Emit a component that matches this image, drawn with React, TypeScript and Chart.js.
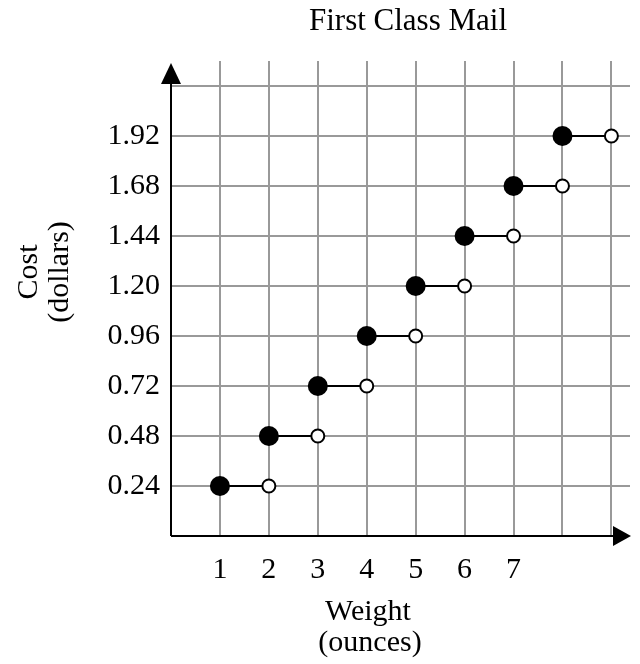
import React, { useEffect, useRef } from "react";
import { Chart, registerables } from "chart.js";

Chart.register(...registerables);

// Data
const weights = [1, 2, 3, 4, 5, 6, 7, 8];
const nextWeights = [2, 3, 4, 5, 6, 7, 8, 9];
const costs = [0.24, 0.48, 0.72, 0.96, 1.2, 1.44, 1.68, 1.92];

const xGridValues = [1, 2, 3, 4, 5, 6, 7, 8, 9];
const xTickLabels = ["1", "2", "3", "4", "5", "6", "7"];
const yGridValues = [0.24, 0.48, 0.72, 0.96, 1.2, 1.44, 1.68, 1.92, 2.16];
const yTickLabels = ["0.24", "0.48", "0.72", "0.96", "1.20", "1.44", "1.68", "1.92"];

const titleText = "First Class Mail";
const xTitle = ["Weight", "(ounces)"];
const yTitle = ["Cost", "(dollars)"];

const FONT = "'Liberation Serif', 'Times New Roman', serif";

const decorPlugin = {
  id: "decor",
  afterDraw(chart: any) {
    const ctx = chart.ctx;
    const xs = chart.scales.x;
    const ys = chart.scales.y;
    const x0 = xs.getPixelForValue(0);
    const y0 = ys.getPixelForValue(0);
    const area = chart.chartArea;
    ctx.save();
    // axes
    ctx.strokeStyle = "#000";
    ctx.lineWidth = 2;
    ctx.beginPath();
    ctx.moveTo(x0, y0);
    ctx.lineTo(x0, area.top + 22);
    ctx.moveTo(x0, y0);
    ctx.lineTo(area.right - 16, y0);
    ctx.stroke();
    // arrows
    ctx.fillStyle = "#000";
    ctx.beginPath();
    ctx.moveTo(x0, area.top + 2);
    ctx.lineTo(x0 - 10, area.top + 23);
    ctx.lineTo(x0 + 10, area.top + 23);
    ctx.closePath();
    ctx.fill();
    ctx.beginPath();
    ctx.moveTo(area.right + 1, y0);
    ctx.lineTo(area.right - 17, y0 - 10);
    ctx.lineTo(area.right - 17, y0 + 10);
    ctx.closePath();
    ctx.fill();
    // texts
    ctx.fillStyle = "#000";
    ctx.textAlign = "center";
    ctx.textBaseline = "alphabetic";
    ctx.font = "31px " + FONT;
    ctx.fillText(titleText, 408, 30);
    ctx.font = "30px " + FONT;
    ctx.fillText(xTitle[0], 368, 620);
    ctx.fillText(xTitle[1], 370, 651);
    ctx.translate(37, 272);
    ctx.rotate(-Math.PI / 2);
    ctx.fillText(yTitle[0], 0, 0);
    ctx.fillText(yTitle[1], 0, 31);
    ctx.restore();
  },
};

export default function App() {
  const ref = useRef<HTMLCanvasElement | null>(null);
  useEffect(() => {
    if (!ref.current) return;
    const segments = weights.map((w, i) => ({
      type: "line" as const,
      data: [
        { x: w, y: costs[i] },
        { x: nextWeights[i], y: costs[i] },
      ],
      borderColor: "#000",
      borderWidth: 2,
      pointRadius: 0,
      showLine: true,
      fill: false,
      order: 2,
      clip: false as any,
    }));
    const chart = new Chart(ref.current, {
      type: "scatter",
      data: {
        datasets: [
          {
            data: weights.map((w, i) => ({ x: w, y: costs[i] })),
            pointRadius: 10,
            pointBackgroundColor: "#000",
            pointBorderColor: "#000",
            pointBorderWidth: 0,
            order: 0,
            clip: false as any,
          },
          {
            data: nextWeights.map((w, i) => ({ x: w, y: costs[i] })),
            pointRadius: 6.5,
            pointBackgroundColor: "#fff",
            pointBorderColor: "#000",
            pointBorderWidth: 2,
            order: 0,
            clip: false as any,
          },
          ...segments,
        ] as any,
      },
      options: {
        animation: false,
        responsive: false,
        layout: { padding: { top: 61, left: 0, right: 0, bottom: 0 } },
        plugins: {
          legend: { display: false },
          title: { display: false },
          tooltip: { enabled: false },
        },
        scales: {
          x: {
            type: "linear",
            min: 0,
            max: 9.38,
            afterBuildTicks: (s: any) => {
              s.ticks = xGridValues.map((v) => ({ value: v }));
            },
            afterFit: (s: any) => {
              s.height = 128;
            },
            grid: { color: "#999", lineWidth: 2, drawTicks: false },
            border: { display: false },
            ticks: {
              autoSkip: false,
              maxRotation: 0,
              padding: 16,
              color: "#000",
              font: { family: FONT, size: 30 },
              callback: (_v: any, i: number) => xTickLabels[i] ?? "",
            },
          },
          y: {
            type: "linear",
            min: 0,
            max: 2.28,
            afterBuildTicks: (s: any) => {
              s.ticks = yGridValues.map((v) => ({ value: v }));
            },
            afterFit: (s: any) => {
              s.width = 171;
            },
            grid: { color: "#999", lineWidth: 2, drawTicks: false },
            border: { display: false },
            ticks: {
              autoSkip: false,
              padding: 11,
              color: "#000",
              font: { family: FONT, size: 30 },
              callback: (_v: any, i: number) => yTickLabels[i] ?? "",
            },
          },
        },
      } as any,
      plugins: [decorPlugin],
    });
    return () => chart.destroy();
  }, []);
  return (
    <div style={{ position: "absolute", left: 0, top: 0, width: 640, height: 664, background: "#fff" }}>
      <canvas ref={ref} width={640} height={664} style={{ display: "block" }} />
    </div>
  );
}
